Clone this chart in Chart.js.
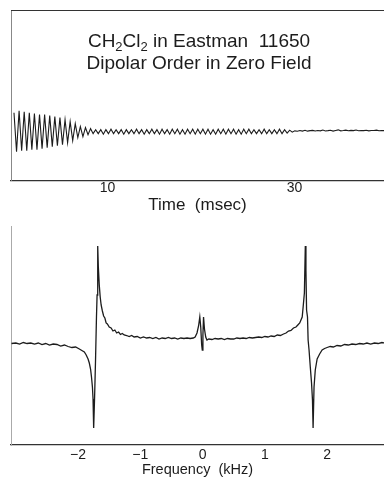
<!DOCTYPE html>
<html>
<head>
<meta charset="utf-8">
<script src="https://cdn.jsdelivr.net/npm/chart.js@4/dist/chart.umd.min.js"></script>
<style>
  body { margin: 0; background: #fff; }
  canvas { position: absolute; left: 0; }
  #fidChart { top: 0; }
  #specChart { top: 215px; }
</style>
</head>
<body>
<canvas id="fidChart" width="384" height="215"></canvas>
<canvas id="specChart" width="384" height="275"></canvas>
<script>
// Señal en el tiempo (FID), muestreada cada medio periodo
const fidStart = 0;
const fidStep = 0.273; // msec
const fidValues = [
  19, -20, 21, -19, 20, -19, 19, -18, 18, -18, 17, -17, 17, -16, 16, -15,
  15, -14, 14, -13, 12, -11, 10, -9, 8, -6, 5, -5, 4, -3, 3, -2,
  2, -2, 2, -2.5, 2, -2, 2.5, -2, 2, -2,
  2, -2.5, 2, -2, 2, -2, 2.5, -2, 2, -2.5,
  2, -2, 2.5, -2, 2, -2.5, 2.5, -2, 2, -2.5,
  2.5, -2, 2.5, -2.5, 2, -2.5, 2.5, -2, 2.5, -2.5,
  2.5, -2, 2.5, -2.5, 2.5, -2.5, 2, -2.5, 2.5, -2,
  2.5, -2.5, 2.5, -2, 2.5, -2.5, 2, -2.5, 2.5, -2,
  2.5, -2, 2, -2, 2, -2, 2.5, -2, 2, -2,
  2, -2, 2.5, -2, 2, -1.5, 1.5, -0.5,
  0.8, 0.4, 1.2, 0.6, 1.4, 0.5, 1, 1.3, 0.6, 1.2,
  0.8, 1.6, 0.7, 1, 1.4, 0.6, 1.2, 1.8, 0.8, 1.1,
  1.5, 0.9, 1.3, 1, 1.6, 0.9, 1.2, 1, 1.4, 0.8,
  1.2, 1.1, 1.5, 0.9, 1.2, 1
];
const timeTicks = [10, 30];

// Espectro en frecuencia
const specFreq = [
  -3.07, -3.00, -2.94, -2.88, -2.82, -2.76, -2.70, -2.64, -2.58, -2.52,
  -2.46, -2.40, -2.34, -2.28, -2.22, -2.16, -2.10, -2.04, -1.98, -1.94,
  -1.90, -1.87, -1.84, -1.82, -1.80, -1.785, -1.77, -1.76, -1.75, -1.735,
  -1.72, -1.705, -1.695, -1.685, -1.675, -1.66, -1.645, -1.63, -1.61, -1.59,
  -1.57, -1.55, -1.53, -1.50, -1.47, -1.44, -1.41, -1.38, -1.35, -1.32,
  -1.29, -1.26, -1.22, -1.18, -1.14, -1.10, -1.05, -1.00, -0.95, -0.90,
  -0.85, -0.80, -0.75, -0.70, -0.65, -0.60, -0.55, -0.50, -0.45, -0.40,
  -0.35, -0.30, -0.25, -0.20, -0.15, -0.12, -0.09, -0.065, -0.045, -0.03,
  -0.015, -0.005, 0.005, 0.015, 0.03, 0.05, 0.07, 0.10, 0.15, 0.20,
  0.25, 0.30, 0.35, 0.40, 0.45, 0.50, 0.55, 0.60, 0.65, 0.70,
  0.75, 0.80, 0.85, 0.90, 0.95, 1.00, 1.05, 1.10, 1.15, 1.20,
  1.25, 1.30, 1.34, 1.38, 1.42, 1.46, 1.50, 1.53, 1.56, 1.58,
  1.60, 1.615, 1.635, 1.65, 1.66, 1.67, 1.685, 1.695, 1.71, 1.73,
  1.75, 1.765, 1.775, 1.79, 1.81, 1.84, 1.88, 1.92, 1.96, 2.00,
  2.05, 2.10, 2.16, 2.22, 2.28, 2.34, 2.40, 2.46, 2.52, 2.58,
  2.64, 2.70, 2.76, 2.82, 2.88, 2.92
];
const specInt = [
  101.5, 102, 101, 102.5, 101.5, 102, 101, 102, 100.5, 101.5,
  100, 101, 100.5, 99, 100, 98.5, 97.5, 98, 96, 94.5,
  93, 90, 86, 82, 76, 68, 58, 46, 17, 48,
  85, 128, 150, 199, 178, 160, 148, 140, 134, 129,
  127, 122, 121, 118, 117, 114, 115, 112, 113, 110.5,
  111.5, 110, 109.5, 108.5, 109.5, 108, 108.5, 107, 108, 107,
  107.5, 106.5, 107.5, 106, 107, 106.5, 107.5, 106.5, 107, 106,
  107, 106.5, 107, 106.5, 107, 108, 112, 119, 128, 118,
  100, 95, 110, 128, 116, 108, 105, 106, 105.5, 106.5,
  106, 106.5, 105.5, 106.5, 106, 106, 107, 106.5, 107, 106.5,
  107.5, 107, 107.5, 108, 107.5, 108.5, 108, 109, 108.5, 110,
  109.5, 111, 112, 114, 114.5, 117, 118, 120, 122, 125,
  128, 138, 152, 199, 175, 135, 128, 105, 95, 78,
  62, 45, 17, 58, 75, 86, 91, 95, 96.5, 97.5,
  98.5, 98, 99.5, 99, 100.5, 100, 101, 100.5, 101.5, 101,
  102, 101, 102, 101.5, 102.5, 102
];
const freqTicks = [-2, -1, 0, 1, 2];

const fontFam = '"Liberation Sans", Arial, sans-serif';
const ink = '#1c1c1c';

// Marco superior y leyenda del panel de arriba
const marcoPlugin = {
  id: 'marco',
  afterDraw(chart) {
    const ctx = chart.ctx;
    const a = chart.chartArea;
    ctx.save();
    ctx.strokeStyle = '#333';
    ctx.lineWidth = 1.2;
    ctx.beginPath();
    ctx.moveTo(a.left, a.top + 0.5);
    ctx.lineTo(a.right, a.top + 0.5);
    ctx.stroke();

    ctx.fillStyle = ink;
    ctx.textBaseline = 'alphabetic';
    const partes = [['CH', 19, 0], ['2', 13, 4], ['Cl', 19, 0], ['2', 13, 4], [' in Eastman  11650', 19, 0]];
    let total = 0;
    partes.forEach(p => { ctx.font = p[1] + 'px ' + fontFam; total += ctx.measureText(p[0]).width; });
    let x = 199 - total / 2;
    partes.forEach(p => {
      ctx.font = p[1] + 'px ' + fontFam;
      ctx.fillText(p[0], x, 47 + p[2]);
      x += ctx.measureText(p[0]).width;
    });
    ctx.font = '19px ' + fontFam;
    ctx.textAlign = 'center';
    ctx.fillText('Dipolar Order in Zero Field', 199, 69);
    ctx.restore();
  }
};

const fidCtx = document.getElementById('fidChart').getContext('2d');
new Chart(fidCtx, {
  type: 'line',
  data: {
    datasets: [{
      data: fidValues.map((v, i) => ({ x: fidStart + i * fidStep, y: v })),
      borderColor: ink,
      borderWidth: 1.1,
      pointRadius: 0,
      tension: 0
    }]
  },
  options: {
    responsive: false,
    animation: false,
    devicePixelRatio: 1,
    layout: { padding: { left: 11, top: 10, right: 0, bottom: 0 } },
    plugins: { legend: { display: false }, tooltip: { enabled: false } },
    scales: {
      x: {
        type: 'linear', min: -0.32, max: 39.57,
        afterBuildTicks: s => { s.ticks = timeTicks.map(v => ({ value: v })); },
        grid: { display: false, drawTicks: false },
        border: { display: true, color: '#333', width: 1.2 },
        ticks: { color: ink, padding: 0, maxRotation: 0, font: { family: fontFam, size: 14, lineHeight: 1 } },
        title: { display: true, text: 'Time  (msec)', color: ink, padding: 0, font: { family: fontFam, size: 17, lineHeight: 1.18 } }
      },
      y: {
        min: -49.3, max: 121.7,
        grid: { display: false, drawTicks: false },
        border: { display: true, color: '#888', width: 1 },
        ticks: { display: false }
      }
    }
  },
  plugins: [marcoPlugin]
});

const specCtx = document.getElementById('specChart').getContext('2d');
new Chart(specCtx, {
  type: 'line',
  data: {
    datasets: [{
      data: specFreq.map((f, i) => ({ x: f, y: specInt[i] })),
      borderColor: ink,
      borderWidth: 1.3,
      pointRadius: 0,
      tension: 0
    }]
  },
  options: {
    responsive: false,
    animation: false,
    devicePixelRatio: 1,
    layout: { padding: { left: 11, top: 11, right: 0, bottom: 16 } },
    plugins: { legend: { display: false }, tooltip: { enabled: false } },
    scales: {
      x: {
        type: 'linear', min: -3.078, max: 2.914,
        afterBuildTicks: s => { s.ticks = freqTicks.map(v => ({ value: v })); },
        grid: { display: false, drawTicks: false },
        border: { display: true, color: '#333', width: 1.2 },
        ticks: {
          color: ink, padding: 3, maxRotation: 0,
          font: { family: fontFam, size: 14, lineHeight: 1 },
          callback: v => v < 0 ? '\u2212' + Math.abs(v) : String(v)
        },
        title: { display: true, text: 'Frequency  (kHz)', color: ink, padding: 0, font: { family: fontFam, size: 14.5, lineHeight: 0.62 } }
      },
      y: {
        min: 0, max: 219,
        grid: { display: false, drawTicks: false },
        border: { display: true, color: '#aaa', width: 1 },
        ticks: { display: false }
      }
    }
  }
});
</script>
</body>
</html>
